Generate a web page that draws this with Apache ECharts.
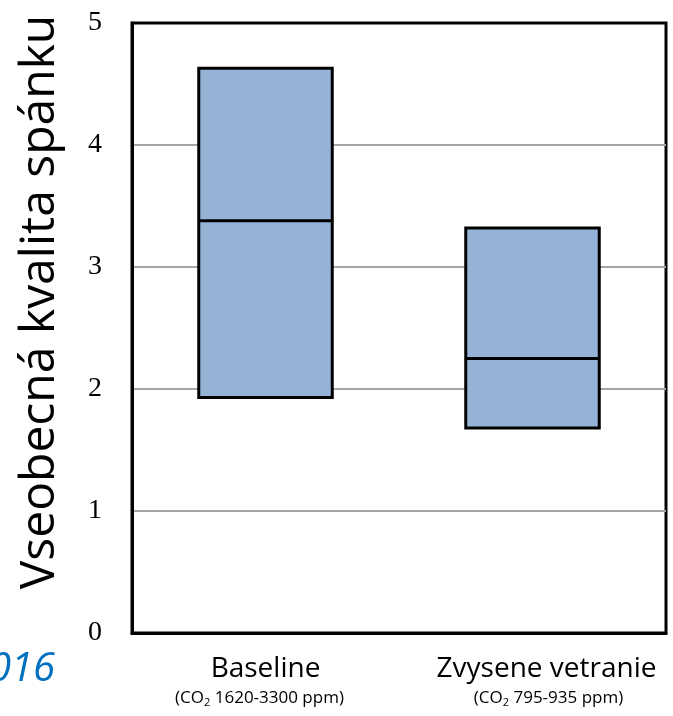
<!DOCTYPE html>
<html>
<head>
<meta charset="utf-8">
<script src="https://cdn.jsdelivr.net/npm/echarts@6/dist/echarts.min.js"></script>
<style>html,body{margin:0;padding:0;background:#fff;}#c{width:673px;height:716px;}</style>
</head>
<body>
<div id="c"></div>
<script>
var categories = ['Baseline', 'Zvysene vetranie'];
var subLabels = ['1620-3300 ppm', '795-935 ppm'];
var q1 = [1.93, 1.68];
var median = [3.38, 2.25];
var q3 = [4.63, 3.32];
var yTicks = [0, 1, 2, 3, 4, 5];
var yTitle = 'Vseobecná kvalita spánku';
var cornerText = '2016';

var boxData = categories.map(function (c, i) {
  return [q1[i], q1[i], median[i], q3[i], q3[i]];
});

var font = 'Open Sans';
var chart = echarts.init(document.getElementById('c'));
chart.setOption({
  animation: false,
  grid: { left: 132, right: 7, top: 23, bottom: 83, show: true, borderColor: '#000', borderWidth: 3, backgroundColor: 'transparent' },
  xAxis: {
    type: 'category',
    data: categories,
    axisLine: { lineStyle: { color: '#000', width: 3 } },
    axisTick: { show: false },
    axisLabel: {
      margin: 20,
      interval: 0,
      formatter: function (v, i) {
        if (i === 0) {
          return '{a|' + v + '}\n{b|(CO}{s|2}{b2| ' + subLabels[i] + ')}';
        }
        return '{a3|' + v + '}\n{b3|(CO}{s|2}{b| ' + subLabels[i] + ')}';
      },
      rich: {
        a: { fontFamily: font, fontSize: 28, color: '#000', lineHeight: 32 },
        a3: { fontFamily: font, fontSize: 28, color: '#000', lineHeight: 32, padding: [0, 0, 0, 28] },
        b: { fontFamily: font, fontSize: 17, color: '#000', lineHeight: 26 },
        b2: { fontFamily: font, fontSize: 17, color: '#000', lineHeight: 26, padding: [0, 12, 0, 0] },
        b3: { fontFamily: font, fontSize: 17, color: '#000', lineHeight: 26, padding: [0, 0, 0, 32] },
        s: { fontFamily: font, fontSize: 11, color: '#000', lineHeight: 26, padding: [9, 0, 0, 0] }
      }
    }
  },
  yAxis: {
    type: 'value',
    min: 0, max: 5, interval: 1,
    axisLine: { show: true, lineStyle: { color: '#000', width: 3 } },
    axisTick: { show: false },
    splitLine: { lineStyle: { color: ['#000', '#a6a6a6', '#a6a6a6', '#a6a6a6', '#a6a6a6', '#000'], width: 2 } },
    axisLabel: {
      margin: 30,
      fontFamily: 'Liberation Serif',
      fontSize: 28,
      color: '#000',
      formatter: function (v) { return yTicks.indexOf(v) >= 0 ? String(v) : ''; }
    }
  },
  series: [{
    type: 'boxplot',
    data: boxData,
    boxWidth: ['50%', '50%'],
    itemStyle: { color: '#95B3D7', borderColor: '#000', borderWidth: 3 },
    emphasis: { disabled: true }
  }],
  graphic: [
    {
      type: 'text',
      x: 40, y: 302,
      rotation: Math.PI / 2,
      style: {
        text: yTitle,
        fontFamily: font,
        fontSize: 48,
        fill: '#000',
        align: 'center',
        verticalAlign: 'middle'
      }
    },
    {
      type: 'text',
      x: 55, y: 670,
      style: {
        text: cornerText,
        fontFamily: font,
        fontStyle: 'italic',
        fontSize: 40,
        fill: '#0070C0',
        align: 'right',
        verticalAlign: 'middle'
      }
    }
  ]
});
</script>
</body>
</html>
